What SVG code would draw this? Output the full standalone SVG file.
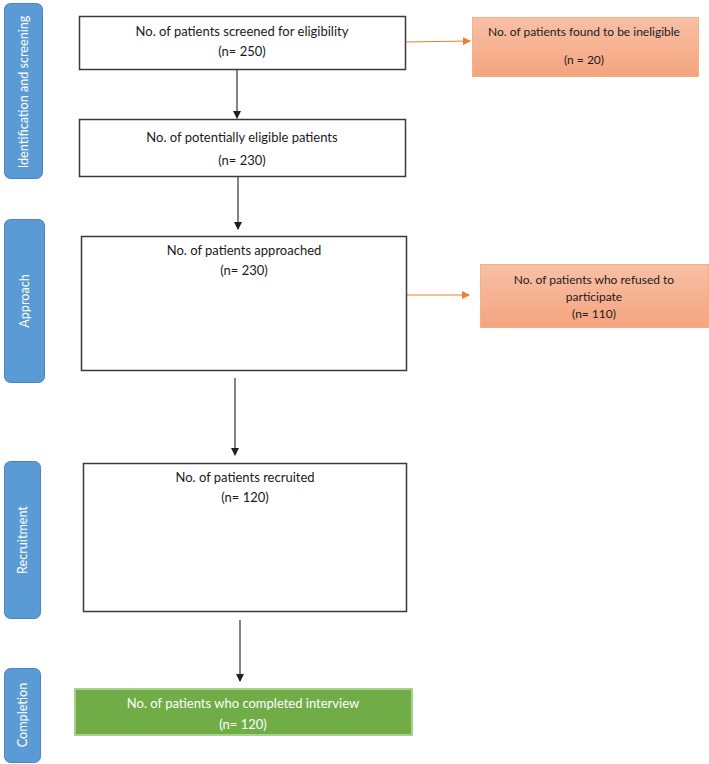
<svg xmlns="http://www.w3.org/2000/svg" width="709" height="764" viewBox="0 0 709 764">
<defs>
<linearGradient id="og" x1="0" y1="0" x2="0" y2="1">
<stop offset="0" stop-color="#F8C0A6"/>
<stop offset="1" stop-color="#F5A47E"/>
</linearGradient>
<marker id="ab" markerWidth="8" markerHeight="8" refX="7" refY="4" orient="auto" markerUnits="userSpaceOnUse">
<path d="M0,0 L8,4 L0,8 Z" fill="#1f1f1f"/>
</marker>
<marker id="ao" markerWidth="8" markerHeight="8" refX="7" refY="4" orient="auto" markerUnits="userSpaceOnUse">
<path d="M0,0 L8,4 L0,8 Z" fill="#ED7D31"/>
</marker>
</defs>
<style>
.side{fill:#5B9BD5;stroke:#4A85BE;stroke-width:1}
.sidet{fill:#ffffff;font-family:Lato,"Open Sans",sans-serif;font-size:12.6px;text-anchor:middle}
.box{fill:#ffffff;stroke:#3a3a3a;stroke-width:1.5}
.ob{fill:url(#og);stroke:#F4B183;stroke-width:1}
.gb{fill:#70AD47;stroke:#A9D18E;stroke-width:2}
.t{font-family:Lato,"Open Sans",sans-serif;font-size:13px;fill:#1a1a1a;text-anchor:middle}
.ts{font-family:Lato,"Open Sans",sans-serif;font-size:12px;fill:#1a1a1a;text-anchor:middle}
.tw{font-family:Lato,"Open Sans",sans-serif;font-size:13px;fill:#ffffff;text-anchor:middle}
.c{stroke:#333333;stroke-width:1.2;fill:none;marker-end:url(#ab)}
.co{stroke:#ED7D31;stroke-width:1.2;fill:none;marker-end:url(#ao)}
</style>

<g id="stage-identification">
<rect class="side" x="4.5" y="3.5" width="38" height="175" rx="6"/>
<text class="sidet" transform="translate(28,92) rotate(-90)">Identification and screening</text>
</g>
<g id="stage-approach">
<rect class="side" x="4.5" y="219.5" width="40" height="163" rx="6"/>
<text class="sidet" transform="translate(29,301) rotate(-90)">Approach</text>
</g>
<g id="stage-recruitment">
<rect class="side" x="4.5" y="461.5" width="36" height="157" rx="6"/>
<text class="sidet" transform="translate(27,540) rotate(-90)">Recruitment</text>
</g>
<g id="stage-completion">
<rect class="side" x="4.5" y="668.5" width="36" height="94" rx="6"/>
<text class="sidet" transform="translate(27,715) rotate(-90)">Completion</text>
</g>

<g id="connectors">
<line class="c" x1="237" y1="70" x2="237" y2="118"/>
<line class="c" x1="238" y1="177" x2="238" y2="229"/>
<line class="c" x1="235" y1="378" x2="235" y2="455"/>
<line class="c" x1="240" y1="620" x2="240" y2="681"/>
<line class="co" x1="406" y1="42" x2="470" y2="41"/>
<line class="co" x1="403" y1="295" x2="469" y2="295"/>
</g>

<g id="screened">
<rect class="box" x="79.5" y="16.5" width="326" height="53"/>
<text class="t" x="242" y="36">No. of patients screened for eligibility</text>
<text class="t" x="242" y="56">(n= 250)</text>
</g>
<g id="ineligible">
<rect class="ob" x="472.5" y="17.5" width="226" height="59"/>
<text class="ts" x="584" y="36">No. of patients found to be ineligible</text>
<text class="ts" x="584" y="64">(n = 20)</text>
</g>
<g id="eligible">
<rect class="box" x="79.5" y="119.5" width="326" height="57"/>
<text class="t" x="242" y="142">No. of potentially eligible patients</text>
<text class="t" x="242" y="165">(n= 230)</text>
</g>
<g id="approached">
<rect class="box" x="81.5" y="236.5" width="325" height="134"/>
<text class="t" x="244" y="255">No. of patients approached</text>
<text class="t" x="244" y="275">(n= 230)</text>
</g>
<g id="refused">
<rect class="ob" x="480.5" y="264.5" width="228" height="63"/>
<text class="ts" x="594" y="284">No. of patients who refused to</text>
<text class="ts" x="594" y="301">participate</text>
<text class="ts" x="594" y="318">(n= 110)</text>
</g>
<g id="recruited">
<rect class="box" x="83.5" y="463.5" width="323" height="148"/>
<text class="t" x="245" y="482">No. of patients recruited</text>
<text class="t" x="245" y="502">(n= 120)</text>
</g>
<g id="completed">
<rect class="gb" x="75" y="689" width="337" height="46"/>
<text class="tw" x="243" y="708">No. of patients who completed interview</text>
<text class="tw" x="243" y="729">(n= 120)</text>
</g>
</svg>
